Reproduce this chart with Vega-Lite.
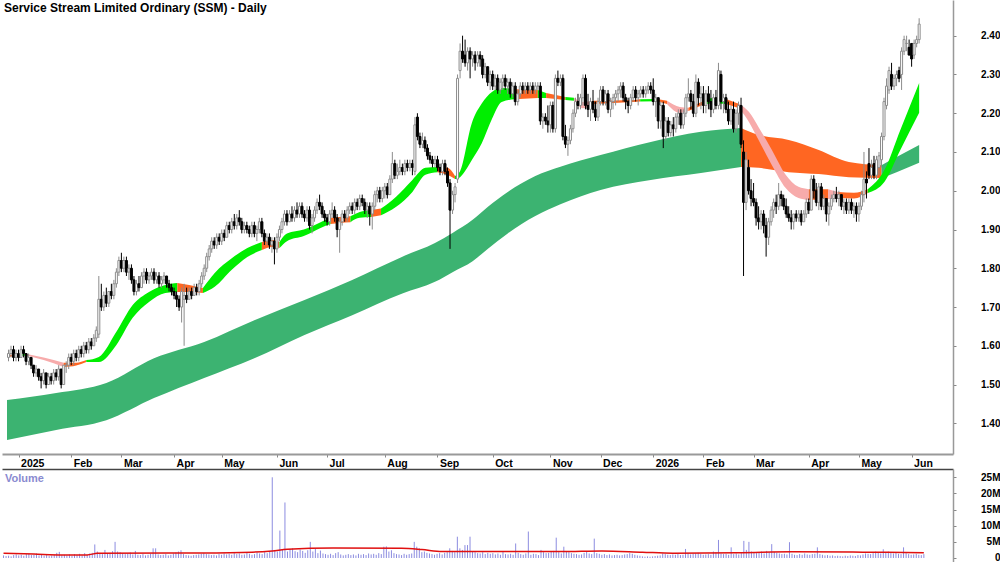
{
"$schema":"https://vega.github.io/schema/vega-lite/v6.json",
"background":"white","padding":0,"spacing":0,
"config":{"view":{"stroke":null},"font":"Liberation Sans"},
"datasets":{
"px":[
{"i":-4,"o":1.57,"h":1.59,"l":1.56,"c":1.58,"v":0.8},{"i":-3,"o":1.58,"h":1.60,"l":1.57,"c":1.59,"v":0.6},{"i":-2,"o":1.59,"h":1.60,"l":1.56,"c":1.57,"v":0.7},{"i":-1,"o":1.57,"h":1.59,"l":1.56,"c":1.58,"v":0.5},
{"i":0,"o":1.58,"h":1.59,"l":1.56,"c":1.57,"v":0.9},{"i":1,"o":1.57,"h":1.60,"l":1.57,"c":1.59,"v":1.1},{"i":2,"o":1.59,"h":1.60,"l":1.57,"c":1.58,"v":0.8},{"i":3,"o":1.58,"h":1.58,"l":1.55,"c":1.56,"v":1.0},{"i":4,"o":1.56,"h":1.58,"l":1.55,"c":1.57,"v":0.7},{"i":5,"o":1.57,"h":1.57,"l":1.54,"c":1.55,"v":1.2},{"i":6,"o":1.55,"h":1.55,"l":1.52,"c":1.53,"v":1.3},{"i":7,"o":1.53,"h":1.55,"l":1.52,"c":1.54,"v":0.9},{"i":8,"o":1.54,"h":1.54,"l":1.51,"c":1.52,"v":1.0},{"i":9,"o":1.52,"h":1.53,"l":1.49,"c":1.51,"v":1.4},{"i":10,"o":1.51,"h":1.54,"l":1.50,"c":1.53,"v":0.8},{"i":11,"o":1.53,"h":1.53,"l":1.49,"c":1.50,"v":1.1},{"i":12,"o":1.50,"h":1.53,"l":1.50,"c":1.52,"v":0.7},{"i":13,"o":1.52,"h":1.53,"l":1.50,"c":1.51,"v":0.9},{"i":14,"o":1.51,"h":1.54,"l":1.50,"c":1.53,"v":0.6},{"i":15,"o":1.53,"h":1.54,"l":1.51,"c":1.52,"v":0.8},{"i":16,"o":1.52,"h":1.55,"l":1.51,"c":1.54,"v":1.0},{"i":17,"o":1.54,"h":1.54,"l":1.49,"c":1.50,"v":1.6},{"i":18,"o":1.50,"h":1.55,"l":1.50,"c":1.55,"v":1.9},{"i":19,"o":1.55,"h":1.56,"l":1.53,"c":1.55,"v":0.9},{"i":20,"o":1.55,"h":1.58,"l":1.54,"c":1.57,"v":1.0},
{"i":21,"o":1.57,"h":1.58,"l":1.55,"c":1.56,"v":0.8},{"i":22,"o":1.56,"h":1.59,"l":1.55,"c":1.58,"v":1.1},{"i":23,"o":1.58,"h":1.59,"l":1.56,"c":1.57,"v":0.7},{"i":24,"o":1.57,"h":1.60,"l":1.56,"c":1.59,"v":1.2},{"i":25,"o":1.59,"h":1.60,"l":1.57,"c":1.58,"v":0.9},{"i":26,"o":1.58,"h":1.61,"l":1.57,"c":1.60,"v":1.3},{"i":27,"o":1.60,"h":1.61,"l":1.58,"c":1.59,"v":0.8},{"i":28,"o":1.59,"h":1.62,"l":1.58,"c":1.61,"v":1.5},{"i":29,"o":1.61,"h":1.62,"l":1.59,"c":1.60,"v":1.0},{"i":30,"o":1.60,"h":1.63,"l":1.60,"c":1.62,"v":1.4},{"i":31,"o":1.62,"h":1.65,"l":1.61,"c":1.64,"v":1.6},{"i":32,"o":1.63,"h":1.78,"l":1.62,"c":1.72,"v":4.2},{"i":33,"o":1.72,"h":1.76,"l":1.69,"c":1.70,"v":2.0},{"i":34,"o":1.70,"h":1.74,"l":1.69,"c":1.73,"v":1.5},{"i":35,"o":1.73,"h":1.75,"l":1.70,"c":1.71,"v":1.2},{"i":36,"o":1.71,"h":1.74,"l":1.70,"c":1.74,"v":2.5},{"i":37,"o":1.74,"h":1.76,"l":1.72,"c":1.73,"v":1.3},{"i":38,"o":1.73,"h":1.77,"l":1.72,"c":1.76,"v":1.6},{"i":39,"o":1.76,"h":1.80,"l":1.75,"c":1.79,"v":2.1},{"i":40,"o":1.79,"h":1.83,"l":1.78,"c":1.82,"v":5.0},
{"i":41,"o":1.82,"h":1.84,"l":1.79,"c":1.80,"v":2.0},{"i":42,"o":1.80,"h":1.83,"l":1.79,"c":1.82,"v":1.8},{"i":43,"o":1.82,"h":1.83,"l":1.78,"c":1.79,"v":1.5},{"i":44,"o":1.79,"h":1.81,"l":1.77,"c":1.80,"v":1.2},{"i":45,"o":1.80,"h":1.81,"l":1.76,"c":1.77,"v":1.4},{"i":46,"o":1.77,"h":1.78,"l":1.73,"c":1.74,"v":1.7},{"i":47,"o":1.74,"h":1.77,"l":1.73,"c":1.76,"v":1.1},{"i":48,"o":1.76,"h":1.78,"l":1.74,"c":1.75,"v":2.2},{"i":49,"o":1.75,"h":1.79,"l":1.75,"c":1.78,"v":1.0},{"i":50,"o":1.78,"h":1.80,"l":1.76,"c":1.79,"v":0.9},{"i":51,"o":1.79,"h":1.80,"l":1.76,"c":1.77,"v":1.2},{"i":52,"o":1.77,"h":1.79,"l":1.76,"c":1.78,"v":0.8},{"i":53,"o":1.78,"h":1.80,"l":1.77,"c":1.79,"v":1.0},{"i":54,"o":1.79,"h":1.80,"l":1.76,"c":1.77,"v":1.3},{"i":55,"o":1.77,"h":1.79,"l":1.76,"c":1.78,"v":3.0},{"i":56,"o":1.78,"h":1.79,"l":1.75,"c":1.76,"v":3.0},{"i":57,"o":1.76,"h":1.78,"l":1.75,"c":1.77,"v":1.1},{"i":58,"o":1.77,"h":1.79,"l":1.76,"c":1.78,"v":0.9},{"i":59,"o":1.78,"h":1.78,"l":1.75,"c":1.76,"v":1.0},{"i":60,"o":1.76,"h":1.77,"l":1.74,"c":1.75,"v":1.2},{"i":61,"o":1.75,"h":1.76,"l":1.73,"c":1.74,"v":0.8},
{"i":62,"o":1.74,"h":1.75,"l":1.72,"c":1.73,"v":1.0},{"i":63,"o":1.73,"h":1.74,"l":1.70,"c":1.72,"v":1.4},{"i":64,"o":1.72,"h":1.73,"l":1.69,"c":1.70,"v":1.7},{"i":65,"o":1.70,"h":1.75,"l":1.66,"c":1.74,"v":2.0},{"i":66,"o":1.72,"h":1.76,"l":1.60,"c":1.73,"v":2.4},{"i":67,"o":1.73,"h":1.75,"l":1.71,"c":1.72,"v":1.2},{"i":68,"o":1.72,"h":1.75,"l":1.72,"c":1.74,"v":0.9},{"i":69,"o":1.74,"h":1.75,"l":1.72,"c":1.73,"v":0.8},{"i":70,"o":1.73,"h":1.76,"l":1.73,"c":1.75,"v":0.7},{"i":71,"o":1.75,"h":1.76,"l":1.73,"c":1.74,"v":0.9},{"i":72,"o":1.74,"h":1.77,"l":1.73,"c":1.76,"v":1.0},{"i":73,"o":1.76,"h":1.79,"l":1.75,"c":1.78,"v":1.1},{"i":74,"o":1.78,"h":1.81,"l":1.77,"c":1.80,"v":1.3},{"i":75,"o":1.80,"h":1.84,"l":1.79,"c":1.83,"v":1.5},{"i":76,"o":1.83,"h":1.86,"l":1.82,"c":1.85,"v":1.2},{"i":77,"o":1.85,"h":1.88,"l":1.84,"c":1.87,"v":1.1},{"i":78,"o":1.87,"h":1.88,"l":1.85,"c":1.86,"v":0.9},{"i":79,"o":1.86,"h":1.89,"l":1.85,"c":1.88,"v":1.0},{"i":80,"o":1.88,"h":1.89,"l":1.86,"c":1.87,"v":0.8},
{"i":81,"o":1.87,"h":1.90,"l":1.86,"c":1.89,"v":1.2},{"i":82,"o":1.89,"h":1.90,"l":1.87,"c":1.88,"v":1.0},{"i":83,"o":1.88,"h":1.92,"l":1.88,"c":1.91,"v":1.4},{"i":84,"o":1.91,"h":1.92,"l":1.89,"c":1.90,"v":1.1},{"i":85,"o":1.90,"h":1.93,"l":1.89,"c":1.92,"v":1.3},{"i":86,"o":1.92,"h":1.94,"l":1.90,"c":1.91,"v":1.0},{"i":87,"o":1.91,"h":1.94,"l":1.90,"c":1.93,"v":1.5},{"i":88,"o":1.93,"h":1.95,"l":1.91,"c":1.92,"v":1.2},{"i":89,"o":1.92,"h":1.93,"l":1.89,"c":1.90,"v":1.4},{"i":90,"o":1.90,"h":1.92,"l":1.89,"c":1.91,"v":1.0},{"i":91,"o":1.91,"h":1.92,"l":1.89,"c":1.90,"v":1.1},{"i":92,"o":1.90,"h":1.91,"l":1.88,"c":1.89,"v":1.6},{"i":93,"o":1.89,"h":1.92,"l":1.88,"c":1.91,"v":1.3},{"i":94,"o":1.91,"h":1.92,"l":1.88,"c":1.89,"v":1.0},{"i":95,"o":1.89,"h":1.91,"l":1.87,"c":1.90,"v":1.2},{"i":96,"o":1.90,"h":1.93,"l":1.89,"c":1.92,"v":1.7},{"i":97,"o":1.92,"h":1.93,"l":1.88,"c":1.89,"v":1.4},{"i":98,"o":1.89,"h":1.90,"l":1.86,"c":1.87,"v":1.2},{"i":99,"o":1.87,"h":1.89,"l":1.86,"c":1.88,"v":1.8},{"i":100,"o":1.88,"h":1.89,"l":1.85,"c":1.86,"v":1.5},{"i":101,"o":1.86,"h":1.88,"l":1.84,"c":1.87,"v":2.0},{"i":102,"o":1.87,"h":1.88,"l":1.81,"c":1.85,"v":25.0},
{"i":103,"o":1.85,"h":1.89,"l":1.84,"c":1.88,"v":2.5},{"i":104,"o":1.88,"h":1.91,"l":1.87,"c":1.90,"v":2.0},{"i":105,"o":1.90,"h":1.93,"l":1.89,"c":1.92,"v":8.5},{"i":106,"o":1.92,"h":1.95,"l":1.91,"c":1.94,"v":2.5},{"i":107,"o":1.94,"h":1.95,"l":1.91,"c":1.92,"v":17.2},{"i":108,"o":1.92,"h":1.95,"l":1.92,"c":1.94,"v":2.0},{"i":109,"o":1.94,"h":1.96,"l":1.92,"c":1.93,"v":2.8},{"i":110,"o":1.93,"h":1.96,"l":1.92,"c":1.95,"v":3.0},{"i":111,"o":1.95,"h":1.97,"l":1.93,"c":1.94,"v":2.1},{"i":112,"o":1.94,"h":1.97,"l":1.93,"c":1.96,"v":1.8},{"i":113,"o":1.96,"h":1.97,"l":1.93,"c":1.94,"v":2.6},{"i":114,"o":1.94,"h":1.95,"l":1.92,"c":1.93,"v":2.2},{"i":115,"o":1.93,"h":1.96,"l":1.92,"c":1.95,"v":1.6},{"i":116,"o":1.95,"h":1.96,"l":1.90,"c":1.91,"v":2.4},{"i":117,"o":1.91,"h":1.94,"l":1.89,"c":1.93,"v":5.0},{"i":118,"o":1.93,"h":1.96,"l":1.92,"c":1.95,"v":2.0},{"i":119,"o":1.95,"h":1.98,"l":1.94,"c":1.97,"v":2.8},{"i":120,"o":1.97,"h":1.99,"l":1.95,"c":1.96,"v":1.5},{"i":121,"o":1.96,"h":1.97,"l":1.93,"c":1.94,"v":2.3},{"i":122,"o":1.94,"h":1.95,"l":1.92,"c":1.93,"v":1.4},
{"i":123,"o":1.93,"h":1.94,"l":1.91,"c":1.92,"v":1.2},{"i":124,"o":1.92,"h":1.95,"l":1.91,"c":1.94,"v":1.0},{"i":125,"o":1.94,"h":1.97,"l":1.93,"c":1.95,"v":1.3},{"i":126,"o":1.95,"h":1.96,"l":1.92,"c":1.93,"v":0.9},{"i":127,"o":1.93,"h":1.94,"l":1.88,"c":1.90,"v":1.5},{"i":128,"o":1.90,"h":1.93,"l":1.84,"c":1.92,"v":1.8},{"i":129,"o":1.92,"h":1.95,"l":1.91,"c":1.94,"v":1.1},{"i":130,"o":1.94,"h":1.95,"l":1.92,"c":1.93,"v":0.8},{"i":131,"o":1.93,"h":1.96,"l":1.92,"c":1.95,"v":1.0},{"i":132,"o":1.95,"h":1.97,"l":1.94,"c":1.96,"v":1.2},{"i":133,"o":1.96,"h":1.97,"l":1.94,"c":1.95,"v":0.9},{"i":134,"o":1.95,"h":1.98,"l":1.94,"c":1.97,"v":1.1},{"i":135,"o":1.97,"h":1.98,"l":1.95,"c":1.96,"v":0.8},{"i":136,"o":1.96,"h":1.99,"l":1.95,"c":1.98,"v":1.3},{"i":137,"o":1.98,"h":1.99,"l":1.96,"c":1.97,"v":1.0},{"i":138,"o":1.97,"h":1.98,"l":1.94,"c":1.95,"v":1.2},{"i":139,"o":1.95,"h":1.97,"l":1.93,"c":1.96,"v":0.9},{"i":140,"o":1.96,"h":1.97,"l":1.91,"c":1.94,"v":1.4},{"i":141,"o":1.94,"h":1.97,"l":1.90,"c":1.96,"v":1.1},{"i":142,"o":1.96,"h":2.00,"l":1.95,"c":1.99,"v":1.3},{"i":143,"o":1.99,"h":2.01,"l":1.97,"c":2.00,"v":1.0},{"i":144,"o":2.00,"h":2.01,"l":1.97,"c":1.98,"v":1.5},{"i":145,"o":1.98,"h":2.01,"l":1.97,"c":2.00,"v":1.2},
{"i":146,"o":2.00,"h":2.02,"l":1.98,"c":2.01,"v":3.5},{"i":147,"o":2.01,"h":2.02,"l":1.98,"c":1.99,"v":3.6},{"i":148,"o":1.99,"h":2.04,"l":1.99,"c":2.03,"v":2.0},{"i":149,"o":2.03,"h":2.10,"l":2.02,"c":2.07,"v":2.4},{"i":150,"o":2.07,"h":2.08,"l":2.03,"c":2.04,"v":1.5},{"i":151,"o":2.04,"h":2.07,"l":2.03,"c":2.05,"v":1.2},{"i":152,"o":2.05,"h":2.08,"l":2.04,"c":2.06,"v":1.1},{"i":153,"o":2.06,"h":2.07,"l":2.04,"c":2.05,"v":0.9},{"i":154,"o":2.05,"h":2.08,"l":2.04,"c":2.07,"v":1.3},{"i":155,"o":2.07,"h":2.08,"l":2.05,"c":2.06,"v":1.0},{"i":156,"o":2.06,"h":2.08,"l":2.05,"c":2.07,"v":1.2},{"i":157,"o":2.07,"h":2.08,"l":2.04,"c":2.06,"v":1.4},{"i":158,"o":2.05,"h":2.19,"l":2.04,"c":2.17,"v":5.0},{"i":159,"o":2.19,"h":2.20,"l":2.13,"c":2.14,"v":3.5},{"i":160,"o":2.14,"h":2.15,"l":2.11,"c":2.12,"v":3.0},{"i":161,"o":2.12,"h":2.15,"l":2.11,"c":2.13,"v":1.8},{"i":162,"o":2.13,"h":2.14,"l":2.10,"c":2.11,"v":2.0},{"i":163,"o":2.11,"h":2.12,"l":2.08,"c":2.09,"v":1.6},{"i":164,"o":2.09,"h":2.10,"l":2.07,"c":2.08,"v":1.4},{"i":165,"o":2.08,"h":2.09,"l":2.06,"c":2.07,"v":1.2},{"i":166,"o":2.07,"h":2.09,"l":2.06,"c":2.08,"v":1.0},
{"i":167,"o":2.08,"h":2.09,"l":2.05,"c":2.06,"v":1.3},{"i":168,"o":2.06,"h":2.07,"l":2.04,"c":2.05,"v":1.5},{"i":169,"o":2.05,"h":2.08,"l":2.04,"c":2.07,"v":1.1},{"i":170,"o":2.07,"h":2.08,"l":2.04,"c":2.05,"v":1.6},{"i":171,"o":2.05,"h":2.06,"l":2.01,"c":2.02,"v":1.8},{"i":172,"o":2.02,"h":2.03,"l":1.85,"c":1.95,"v":3.0},{"i":173,"o":1.95,"h":2.00,"l":1.94,"c":1.99,"v":2.2},{"i":174,"o":1.99,"h":2.02,"l":1.97,"c":2.01,"v":1.8},{"i":175,"o":2.03,"h":2.30,"l":2.02,"c":2.29,"v":6.6},{"i":176,"o":2.31,"h":2.38,"l":2.29,"c":2.36,"v":3.0},{"i":177,"o":2.36,"h":2.40,"l":2.33,"c":2.34,"v":2.5},{"i":178,"o":2.35,"h":2.39,"l":2.32,"c":2.33,"v":4.0},{"i":179,"o":2.33,"h":2.37,"l":2.31,"c":2.36,"v":4.0},{"i":180,"o":2.36,"h":2.37,"l":2.29,"c":2.34,"v":6.6},{"i":181,"o":2.34,"h":2.36,"l":2.32,"c":2.35,"v":2.0},{"i":182,"o":2.35,"h":2.36,"l":2.31,"c":2.33,"v":1.8},{"i":183,"o":2.33,"h":2.36,"l":2.32,"c":2.35,"v":1.5},{"i":184,"o":2.35,"h":2.36,"l":2.32,"c":2.34,"v":1.4},{"i":185,"o":2.34,"h":2.35,"l":2.29,"c":2.30,"v":1.8},{"i":186,"o":2.30,"h":2.33,"l":2.29,"c":2.32,"v":1.2},{"i":187,"o":2.32,"h":2.32,"l":2.27,"c":2.28,"v":1.6},{"i":188,"o":2.28,"h":2.31,"l":2.26,"c":2.30,"v":1.3},
{"i":189,"o":2.30,"h":2.31,"l":2.26,"c":2.27,"v":1.5},{"i":190,"o":2.27,"h":2.30,"l":2.26,"c":2.29,"v":1.1},{"i":191,"o":2.29,"h":2.30,"l":2.25,"c":2.26,"v":1.4},{"i":192,"o":2.26,"h":2.29,"l":2.25,"c":2.28,"v":1.0},{"i":193,"o":2.28,"h":2.30,"l":2.26,"c":2.29,"v":2.0},{"i":194,"o":2.29,"h":2.30,"l":2.26,"c":2.27,"v":1.2},{"i":195,"o":2.27,"h":2.29,"l":2.25,"c":2.28,"v":1.1},{"i":196,"o":2.28,"h":2.29,"l":2.24,"c":2.25,"v":1.3},{"i":197,"o":2.25,"h":2.28,"l":2.24,"c":2.27,"v":1.0},{"i":198,"o":2.27,"h":2.28,"l":2.22,"c":2.23,"v":4.5},{"i":199,"o":2.23,"h":2.26,"l":2.22,"c":2.25,"v":1.6},{"i":200,"o":2.25,"h":2.28,"l":2.24,"c":2.27,"v":1.2},{"i":201,"o":2.27,"h":2.28,"l":2.25,"c":2.26,"v":1.0},{"i":202,"o":2.26,"h":2.28,"l":2.25,"c":2.27,"v":1.4},{"i":203,"o":2.27,"h":2.28,"l":2.25,"c":2.26,"v":8.2},{"i":204,"o":2.26,"h":2.28,"l":2.25,"c":2.27,"v":1.0},{"i":205,"o":2.27,"h":2.28,"l":2.25,"c":2.26,"v":1.3},{"i":206,"o":2.26,"h":2.28,"l":2.25,"c":2.27,"v":1.2},{"i":207,"o":2.27,"h":2.28,"l":2.26,"c":2.27,"v":0.9},{"i":208,"o":2.27,"h":2.28,"l":2.17,"c":2.18,"v":2.5},{"i":209,"o":2.18,"h":2.20,"l":2.16,"c":2.19,"v":1.8},{"i":210,"o":2.19,"h":2.20,"l":2.17,"c":2.18,"v":1.5},{"i":211,"o":2.18,"h":2.22,"l":2.15,"c":2.17,"v":1.6},
{"i":212,"o":2.17,"h":2.23,"l":2.15,"c":2.22,"v":1.9},{"i":213,"o":2.22,"h":2.23,"l":2.15,"c":2.16,"v":2.2},{"i":214,"o":2.16,"h":2.30,"l":2.15,"c":2.29,"v":6.3},{"i":215,"o":2.29,"h":2.31,"l":2.27,"c":2.28,"v":1.8},{"i":216,"o":2.28,"h":2.30,"l":2.27,"c":2.29,"v":1.4},{"i":217,"o":2.29,"h":2.30,"l":2.13,"c":2.14,"v":3.5},{"i":218,"o":2.14,"h":2.17,"l":2.11,"c":2.12,"v":2.0},{"i":219,"o":2.12,"h":2.14,"l":2.09,"c":2.13,"v":1.8},{"i":220,"o":2.13,"h":2.17,"l":2.12,"c":2.16,"v":1.5},{"i":221,"o":2.16,"h":2.21,"l":2.15,"c":2.20,"v":1.3},{"i":222,"o":2.20,"h":2.24,"l":2.19,"c":2.23,"v":1.2},{"i":223,"o":2.23,"h":2.25,"l":2.21,"c":2.22,"v":1.0},{"i":224,"o":2.22,"h":2.25,"l":2.21,"c":2.24,"v":1.1},{"i":225,"o":2.24,"h":2.30,"l":2.22,"c":2.29,"v":1.6},{"i":226,"o":2.29,"h":2.30,"l":2.21,"c":2.22,"v":1.9},{"i":227,"o":2.22,"h":2.25,"l":2.19,"c":2.21,"v":1.4},{"i":228,"o":2.21,"h":2.24,"l":2.18,"c":2.23,"v":1.2},{"i":229,"o":2.23,"h":2.26,"l":2.20,"c":2.21,"v":6.0},{"i":230,"o":2.21,"h":2.23,"l":2.18,"c":2.19,"v":1.5},{"i":231,"o":2.19,"h":2.24,"l":2.18,"c":2.23,"v":1.3},
{"i":232,"o":2.23,"h":2.27,"l":2.22,"c":2.26,"v":1.0},{"i":233,"o":2.26,"h":2.27,"l":2.22,"c":2.23,"v":1.2},{"i":234,"o":2.23,"h":2.26,"l":2.22,"c":2.25,"v":0.9},{"i":235,"o":2.25,"h":2.26,"l":2.20,"c":2.21,"v":1.1},{"i":236,"o":2.21,"h":2.24,"l":2.19,"c":2.23,"v":0.8},{"i":237,"o":2.23,"h":2.25,"l":2.21,"c":2.24,"v":0.9},{"i":238,"o":2.24,"h":2.26,"l":2.22,"c":2.25,"v":1.0},{"i":239,"o":2.25,"h":2.27,"l":2.23,"c":2.26,"v":0.8},{"i":240,"o":2.26,"h":2.28,"l":2.24,"c":2.27,"v":0.9},{"i":241,"o":2.27,"h":2.28,"l":2.23,"c":2.24,"v":1.1},{"i":242,"o":2.24,"h":2.25,"l":2.21,"c":2.23,"v":1.2},{"i":243,"o":2.23,"h":2.24,"l":2.20,"c":2.22,"v":1.5},{"i":244,"o":2.22,"h":2.25,"l":2.21,"c":2.24,"v":1.3},{"i":245,"o":2.24,"h":2.27,"l":2.23,"c":2.26,"v":1.0},{"i":246,"o":2.26,"h":2.27,"l":2.23,"c":2.24,"v":0.8},{"i":247,"o":2.24,"h":2.26,"l":2.22,"c":2.25,"v":0.7},{"i":248,"o":2.25,"h":2.27,"l":2.24,"c":2.26,"v":0.5},{"i":249,"o":2.26,"h":2.27,"l":2.24,"c":2.25,"v":0.4},{"i":250,"o":2.25,"h":2.27,"l":2.24,"c":2.26,"v":0.5},{"i":251,"o":2.26,"h":2.28,"l":2.25,"c":2.27,"v":0.4},{"i":252,"o":2.27,"h":2.28,"l":2.25,"c":2.26,"v":0.5},
{"i":253,"o":2.26,"h":2.29,"l":2.22,"c":2.23,"v":0.6},{"i":254,"o":2.23,"h":2.25,"l":2.19,"c":2.24,"v":0.7},{"i":255,"o":2.24,"h":2.24,"l":2.16,"c":2.18,"v":0.8},{"i":256,"o":2.18,"h":2.23,"l":2.16,"c":2.22,"v":1.4},{"i":257,"o":2.22,"h":2.23,"l":2.11,"c":2.14,"v":1.2},{"i":258,"o":2.14,"h":2.19,"l":2.13,"c":2.18,"v":1.0},{"i":259,"o":2.18,"h":2.19,"l":2.14,"c":2.15,"v":0.9},{"i":260,"o":2.15,"h":2.18,"l":2.14,"c":2.17,"v":1.1},{"i":261,"o":2.17,"h":2.19,"l":2.14,"c":2.16,"v":1.0},{"i":262,"o":2.16,"h":2.20,"l":2.15,"c":2.19,"v":1.2},{"i":263,"o":2.19,"h":2.21,"l":2.17,"c":2.20,"v":0.9},{"i":264,"o":2.20,"h":2.21,"l":2.16,"c":2.17,"v":1.0},{"i":265,"o":2.17,"h":2.21,"l":2.16,"c":2.20,"v":2.8},{"i":266,"o":2.20,"h":2.25,"l":2.19,"c":2.24,"v":1.5},{"i":267,"o":2.24,"h":2.29,"l":2.23,"c":2.25,"v":1.1},{"i":268,"o":2.25,"h":2.26,"l":2.21,"c":2.23,"v":1.3},{"i":269,"o":2.23,"h":2.25,"l":2.19,"c":2.20,"v":1.4},{"i":270,"o":2.20,"h":2.30,"l":2.19,"c":2.28,"v":1.6},{"i":271,"o":2.28,"h":2.29,"l":2.22,"c":2.24,"v":1.2},{"i":272,"o":2.24,"h":2.27,"l":2.21,"c":2.25,"v":1.0},
{"i":273,"o":2.25,"h":2.27,"l":2.20,"c":2.22,"v":1.1},{"i":274,"o":2.22,"h":2.26,"l":2.20,"c":2.25,"v":1.2},{"i":275,"o":2.25,"h":2.27,"l":2.21,"c":2.23,"v":1.0},{"i":276,"o":2.23,"h":2.26,"l":2.19,"c":2.21,"v":2.0},{"i":277,"o":2.21,"h":2.25,"l":2.20,"c":2.24,"v":1.8},{"i":278,"o":2.24,"h":2.26,"l":2.21,"c":2.22,"v":5.6},{"i":279,"o":2.22,"h":2.33,"l":2.21,"c":2.31,"v":1.4},{"i":280,"o":2.30,"h":2.31,"l":2.21,"c":2.23,"v":1.2},{"i":281,"o":2.23,"h":2.25,"l":2.20,"c":2.24,"v":1.3},{"i":282,"o":2.24,"h":2.25,"l":2.20,"c":2.21,"v":1.0},{"i":283,"o":2.21,"h":2.23,"l":2.17,"c":2.18,"v":3.3},{"i":284,"o":2.18,"h":2.22,"l":2.17,"c":2.21,"v":1.2},{"i":285,"o":2.21,"h":2.23,"l":2.15,"c":2.16,"v":1.4},{"i":286,"o":2.16,"h":2.21,"l":2.15,"c":2.20,"v":1.1},{"i":287,"o":2.20,"h":2.23,"l":2.17,"c":2.22,"v":1.5},{"i":288,"o":2.22,"h":2.24,"l":2.11,"c":2.12,"v":5.3},{"i":289,"o":2.10,"h":2.13,"l":1.78,"c":1.97,"v":2.5},{"i":290,"o":1.97,"h":2.10,"l":1.95,"c":2.08,"v":5.0},{"i":291,"o":2.06,"h":2.08,"l":1.99,"c":2.00,"v":2.0},{"i":292,"o":2.00,"h":2.03,"l":1.96,"c":1.98,"v":1.8},
{"i":293,"o":1.98,"h":2.02,"l":1.96,"c":1.97,"v":1.5},{"i":294,"o":1.97,"h":1.98,"l":1.91,"c":1.93,"v":1.6},{"i":295,"o":1.93,"h":1.96,"l":1.90,"c":1.92,"v":2.0},{"i":296,"o":1.92,"h":1.95,"l":1.90,"c":1.94,"v":1.4},{"i":297,"o":1.94,"h":1.95,"l":1.89,"c":1.91,"v":2.2},{"i":298,"o":1.91,"h":1.93,"l":1.83,"c":1.88,"v":1.8},{"i":299,"o":1.88,"h":1.93,"l":1.86,"c":1.92,"v":4.3},{"i":300,"o":1.92,"h":1.96,"l":1.91,"c":1.95,"v":1.9},{"i":301,"o":1.95,"h":1.98,"l":1.93,"c":1.97,"v":1.6},{"i":302,"o":1.97,"h":1.99,"l":1.94,"c":1.96,"v":1.4},{"i":303,"o":1.96,"h":2.02,"l":1.95,"c":1.99,"v":1.2},{"i":304,"o":1.99,"h":2.00,"l":1.96,"c":1.98,"v":1.3},{"i":305,"o":1.98,"h":1.99,"l":1.95,"c":1.96,"v":1.1},{"i":306,"o":1.96,"h":1.98,"l":1.93,"c":1.94,"v":4.9},{"i":307,"o":1.94,"h":1.96,"l":1.92,"c":1.93,"v":1.3},{"i":308,"o":1.93,"h":1.95,"l":1.90,"c":1.92,"v":1.0},{"i":309,"o":1.92,"h":1.94,"l":1.90,"c":1.94,"v":0.9},{"i":310,"o":1.94,"h":1.95,"l":1.92,"c":1.93,"v":1.2},{"i":311,"o":1.93,"h":1.95,"l":1.92,"c":1.94,"v":1.0},{"i":312,"o":1.94,"h":1.95,"l":1.91,"c":1.92,"v":1.4},{"i":313,"o":1.92,"h":1.95,"l":1.92,"c":1.94,"v":1.1},{"i":314,"o":1.94,"h":1.98,"l":1.93,"c":1.97,"v":1.0},
{"i":315,"o":1.97,"h":1.98,"l":1.94,"c":1.95,"v":1.2},{"i":316,"o":1.95,"h":2.04,"l":1.95,"c":2.03,"v":1.3},{"i":317,"o":2.03,"h":2.04,"l":1.98,"c":2.00,"v":3.3},{"i":318,"o":2.00,"h":2.02,"l":1.96,"c":1.97,"v":1.2},{"i":319,"o":1.97,"h":2.02,"l":1.95,"c":2.01,"v":1.0},{"i":320,"o":2.01,"h":2.02,"l":1.95,"c":1.96,"v":0.8},{"i":321,"o":1.96,"h":1.99,"l":1.95,"c":1.98,"v":0.9},{"i":322,"o":1.98,"h":1.98,"l":1.92,"c":1.94,"v":0.7},{"i":323,"o":1.94,"h":1.97,"l":1.91,"c":1.96,"v":0.8},{"i":324,"o":1.96,"h":1.99,"l":1.95,"c":1.98,"v":0.6},{"i":325,"o":1.98,"h":2.00,"l":1.97,"c":1.99,"v":0.7},{"i":326,"o":1.99,"h":2.01,"l":1.97,"c":1.98,"v":0.6},{"i":327,"o":1.98,"h":2.00,"l":1.96,"c":1.99,"v":0.5},{"i":328,"o":1.99,"h":1.99,"l":1.95,"c":1.96,"v":0.7},{"i":329,"o":1.96,"h":1.98,"l":1.94,"c":1.97,"v":0.6},{"i":330,"o":1.97,"h":1.98,"l":1.94,"c":1.95,"v":0.8},{"i":331,"o":1.95,"h":1.98,"l":1.94,"c":1.97,"v":0.7},{"i":332,"o":1.97,"h":1.98,"l":1.94,"c":1.95,"v":0.6},{"i":333,"o":1.95,"h":1.97,"l":1.93,"c":1.96,"v":0.9},{"i":334,"o":1.96,"h":1.97,"l":1.92,"c":1.94,"v":0.8},
{"i":335,"o":1.94,"h":1.97,"l":1.92,"c":1.96,"v":1.1},{"i":336,"o":1.96,"h":2.00,"l":1.95,"c":1.99,"v":1.4},{"i":337,"o":1.99,"h":2.10,"l":1.97,"c":2.03,"v":1.3},{"i":338,"o":2.03,"h":2.05,"l":1.98,"c":2.02,"v":1.2},{"i":339,"o":2.07,"h":2.11,"l":2.03,"c":2.04,"v":1.5},{"i":340,"o":2.04,"h":2.08,"l":2.03,"c":2.06,"v":2.0},{"i":341,"o":2.07,"h":2.09,"l":2.03,"c":2.04,"v":1.6},{"i":342,"o":2.04,"h":2.09,"l":2.03,"c":2.08,"v":1.4},{"i":343,"o":2.06,"h":2.10,"l":2.04,"c":2.09,"v":2.7},{"i":344,"o":2.08,"h":2.15,"l":2.06,"c":2.14,"v":1.8},{"i":345,"o":2.14,"h":2.24,"l":2.13,"c":2.23,"v":2.0},{"i":346,"o":2.22,"h":2.29,"l":2.21,"c":2.27,"v":1.5},{"i":347,"o":2.26,"h":2.32,"l":2.25,"c":2.31,"v":1.4},{"i":348,"o":2.30,"h":2.33,"l":2.26,"c":2.27,"v":1.6},{"i":349,"o":2.27,"h":2.30,"l":2.26,"c":2.29,"v":1.3},{"i":350,"o":2.29,"h":2.31,"l":2.27,"c":2.30,"v":1.2},{"i":351,"o":2.31,"h":2.32,"l":2.28,"c":2.29,"v":3.3},{"i":352,"o":2.30,"h":2.37,"l":2.26,"c":2.36,"v":1.5},{"i":353,"o":2.36,"h":2.40,"l":2.35,"c":2.39,"v":1.2},{"i":354,"o":2.38,"h":2.40,"l":2.36,"c":2.38,"v":1.0},{"i":355,"o":2.37,"h":2.39,"l":2.35,"c":2.35,"v":1.1},{"i":356,"o":2.38,"h":2.38,"l":2.32,"c":2.34,"v":1.3},{"i":357,"o":2.35,"h":2.39,"l":2.34,"c":2.38,"v":1.0},{"i":358,"o":2.38,"h":2.40,"l":2.37,"c":2.39,"v":0.9},{"i":359,"o":2.39,"h":2.445,"l":2.38,"c":2.43,"v":1.2}
],
"sb":[
{"s":1,"k":"mid","i":-4.6,"hi":1.576,"lo":1.571},{"s":1,"k":"mid","i":0.5,"hi":1.578,"lo":1.574},
{"s":2,"k":"up","i":0.5,"hi":1.578,"lo":1.574},{"s":2,"k":"up","i":3.3,"hi":1.579,"lo":1.575},
{"s":3,"k":"dn","i":3.3,"hi":1.579,"lo":1.575},{"s":3,"k":"dn","i":10,"hi":1.570,"lo":1.563},{"s":3,"k":"dn","i":18,"hi":1.556,"lo":1.545},
{"s":4,"k":"mid","i":18,"hi":1.556,"lo":1.545},{"s":4,"k":"mid","i":23,"hi":1.556,"lo":1.549},{"s":4,"k":"mid","i":27,"hi":1.563,"lo":1.558},
{"s":5,"k":"up","i":27,"hi":1.563,"lo":1.558},{"s":5,"k":"up","i":32,"hi":1.571,"lo":1.558},{"s":5,"k":"up","i":39,"hi":1.636,"lo":1.602},{"s":5,"k":"up","i":45.5,"hi":1.705,"lo":1.672},{"s":5,"k":"up","i":52,"hi":1.739,"lo":1.713},{"s":5,"k":"up","i":58.5,"hi":1.757,"lo":1.736},{"s":5,"k":"up","i":63.3,"hi":1.762,"lo":1.739},
{"s":6,"k":"mid","i":63.3,"hi":1.762,"lo":1.739},{"s":6,"k":"mid","i":68,"hi":1.757,"lo":1.739},{"s":6,"k":"mid","i":73.5,"hi":1.749,"lo":1.736},
{"s":7,"k":"up","i":73.5,"hi":1.749,"lo":1.736},{"s":7,"k":"up","i":78.2,"hi":1.788,"lo":1.752},{"s":7,"k":"up","i":85,"hi":1.826,"lo":1.796},{"s":7,"k":"up","i":91.2,"hi":1.852,"lo":1.829},{"s":7,"k":"up","i":97,"hi":1.868,"lo":1.847},
{"s":8,"k":"mid","i":97,"hi":1.868,"lo":1.847},{"s":8,"k":"mid","i":101,"hi":1.873,"lo":1.855},{"s":8,"k":"mid","i":104,"hi":1.868,"lo":1.852},
{"s":9,"k":"up","i":104,"hi":1.868,"lo":1.852},{"s":9,"k":"up","i":107,"hi":1.890,"lo":1.870},{"s":9,"k":"up","i":113.7,"hi":1.900,"lo":1.883},{"s":9,"k":"up","i":120.4,"hi":1.919,"lo":1.904},{"s":9,"k":"up","i":124.4,"hi":1.930,"lo":1.914},
{"s":10,"k":"mid","i":124.4,"hi":1.930,"lo":1.914},{"s":10,"k":"mid","i":128,"hi":1.932,"lo":1.917},{"s":10,"k":"mid","i":132.3,"hi":1.934,"lo":1.919},
{"s":11,"k":"up","i":132.3,"hi":1.934,"lo":1.919},{"s":11,"k":"up","i":136,"hi":1.945,"lo":1.930},{"s":11,"k":"up","i":140.5,"hi":1.950,"lo":1.932},
{"s":12,"k":"mid","i":140.5,"hi":1.950,"lo":1.932},{"s":12,"k":"mid","i":144.5,"hi":1.954,"lo":1.937},
{"s":13,"k":"up","i":144.5,"hi":1.954,"lo":1.937},{"s":13,"k":"up","i":150.4,"hi":1.984,"lo":1.958},{"s":13,"k":"up","i":157,"hi":2.028,"lo":1.997},{"s":13,"k":"up","i":162.2,"hi":2.059,"lo":2.041},{"s":13,"k":"up","i":167,"hi":2.061,"lo":2.048},
{"s":14,"k":"mid","i":167,"hi":2.061,"lo":2.048},{"s":14,"k":"mid","i":171,"hi":2.059,"lo":2.041},{"s":14,"k":"mid","i":174,"hi":2.038,"lo":2.030},
{"s":15,"k":"up","i":174,"hi":2.038,"lo":2.030},{"s":15,"k":"up","i":176,"hi":2.050,"lo":2.035},{"s":15,"k":"up","i":180.7,"hi":2.175,"lo":2.079},{"s":15,"k":"up","i":184.7,"hi":2.226,"lo":2.123},{"s":15,"k":"up","i":188.7,"hi":2.255,"lo":2.185},{"s":15,"k":"up","i":192.6,"hi":2.265,"lo":2.229},{"s":15,"k":"up","i":197.7,"hi":2.262,"lo":2.236},
{"s":16,"k":"mid","i":197.7,"hi":2.262,"lo":2.236},{"s":16,"k":"mid","i":207,"hi":2.260,"lo":2.239},
{"s":17,"k":"up","i":207,"hi":2.260,"lo":2.239},{"s":17,"k":"up","i":210.3,"hi":2.252,"lo":2.239},
{"s":18,"k":"mid","i":210.3,"hi":2.252,"lo":2.239},{"s":18,"k":"mid","i":218,"hi":2.242,"lo":2.234},
{"s":19,"k":"up","i":218,"hi":2.242,"lo":2.234},{"s":19,"k":"up","i":221.4,"hi":2.240,"lo":2.232},
{"s":20,"k":"dn","i":221.4,"hi":2.240,"lo":2.232},{"s":20,"k":"dn","i":225,"hi":2.229,"lo":2.213},{"s":20,"k":"dn","i":229.3,"hi":2.232,"lo":2.224},
{"s":21,"k":"mid","i":229.3,"hi":2.232,"lo":2.224},{"s":21,"k":"mid","i":245,"hi":2.234,"lo":2.229},{"s":21,"k":"mid","i":247.8,"hi":2.236,"lo":2.230},
{"s":22,"k":"up","i":247.8,"hi":2.236,"lo":2.230},{"s":22,"k":"up","i":254.5,"hi":2.237,"lo":2.231},
{"s":23,"k":"mid","i":254.5,"hi":2.237,"lo":2.231},{"s":23,"k":"mid","i":258.5,"hi":2.232,"lo":2.224},
{"s":24,"k":"dn","i":258.5,"hi":2.232,"lo":2.224},{"s":24,"k":"dn","i":263.6,"hi":2.216,"lo":2.201},{"s":24,"k":"dn","i":267,"hi":2.214,"lo":2.206},
{"s":25,"k":"mid","i":267,"hi":2.214,"lo":2.206},{"s":25,"k":"mid","i":272.7,"hi":2.230,"lo":2.221},
{"s":26,"k":"up","i":272.7,"hi":2.230,"lo":2.221},{"s":26,"k":"up","i":277,"hi":2.239,"lo":2.226},{"s":26,"k":"up","i":282,"hi":2.237,"lo":2.224},
{"s":27,"k":"mid","i":282,"hi":2.237,"lo":2.224},{"s":27,"k":"mid","i":287.3,"hi":2.224,"lo":2.213},
{"s":28,"k":"dn","i":287.3,"hi":2.224,"lo":2.213},{"s":28,"k":"dn","i":291.2,"hi":2.203,"lo":2.177},{"s":28,"k":"dn","i":295,"hi":2.164,"lo":2.131},{"s":28,"k":"dn","i":300.3,"hi":2.105,"lo":2.066},{"s":28,"k":"dn","i":305.8,"hi":2.041,"lo":2.007},{"s":28,"k":"dn","i":310.9,"hi":2.010,"lo":1.981},{"s":28,"k":"dn","i":315,"hi":2.004,"lo":1.976},
{"s":29,"k":"mid","i":315,"hi":2.004,"lo":1.976},{"s":29,"k":"mid","i":322.7,"hi":2.004,"lo":1.979},
{"s":30,"k":"dn","i":322.7,"hi":2.004,"lo":1.979},{"s":30,"k":"dn","i":326.7,"hi":1.997,"lo":1.981},
{"s":31,"k":"mid","i":326.7,"hi":1.997,"lo":1.981},{"s":31,"k":"mid","i":333,"hi":1.995,"lo":1.980},{"s":31,"k":"mid","i":338.5,"hi":2.004,"lo":1.994},
{"s":32,"k":"up","i":338.5,"hi":2.004,"lo":1.994},{"s":32,"k":"up","i":345.2,"hi":2.054,"lo":2.023},{"s":32,"k":"up","i":351.5,"hi":2.157,"lo":2.105},{"s":32,"k":"up","i":359,"hi":2.278,"lo":2.201}
],
"lb":[
{"s":1,"k":"lup","i":-4.6,"hi":1.460,"lo":1.357},{"s":1,"k":"lup","i":15,"hi":1.478,"lo":1.383},{"s":1,"k":"lup","i":35,"hi":1.504,"lo":1.408},{"s":1,"k":"lup","i":54,"hi":1.568,"lo":1.465},{"s":1,"k":"lup","i":74,"hi":1.610,"lo":1.517},{"s":1,"k":"lup","i":94,"hi":1.666,"lo":1.568},{"s":1,"k":"lup","i":114,"hi":1.718,"lo":1.628},{"s":1,"k":"lup","i":133,"hi":1.770,"lo":1.679},{"s":1,"k":"lup","i":153,"hi":1.830,"lo":1.735},{"s":1,"k":"lup","i":166,"hi":1.865,"lo":1.765},{"s":1,"k":"lup","i":173,"hi":1.891,"lo":1.790},{"s":1,"k":"lup","i":181,"hi":1.925,"lo":1.818},{"s":1,"k":"lup","i":187,"hi":1.958,"lo":1.850},{"s":1,"k":"lup","i":195,"hi":1.997,"lo":1.890},{"s":1,"k":"lup","i":206,"hi":2.038,"lo":1.935},{"s":1,"k":"lup","i":216,"hi":2.062,"lo":1.965},{"s":1,"k":"lup","i":232,"hi":2.092,"lo":2.002},{"s":1,"k":"lup","i":252,"hi":2.126,"lo":2.028},{"s":1,"k":"lup","i":272,"hi":2.152,"lo":2.046},{"s":1,"k":"lup","i":288,"hi":2.162,"lo":2.061},
{"s":2,"k":"ldn","i":288,"hi":2.162,"lo":2.061},{"s":2,"k":"ldn","i":295,"hi":2.144,"lo":2.059},{"s":2,"k":"ldn","i":307,"hi":2.131,"lo":2.048},{"s":2,"k":"ldn","i":319,"hi":2.105,"lo":2.043},{"s":2,"k":"ldn","i":331,"hi":2.074,"lo":2.035},{"s":2,"k":"ldn","i":344,"hi":2.066,"lo":2.033},
{"s":3,"k":"lup","i":344,"hi":2.066,"lo":2.033},{"s":3,"k":"lup","i":350,"hi":2.087,"lo":2.048},{"s":3,"k":"lup","i":359,"hi":2.118,"lo":2.072}
],
"vm":[
{"i":-4,"m":1.45},{"i":8,"m":1.2},{"i":19,"m":0.95},{"i":29,"m":0.95},{"i":33,"m":1.45},{"i":74,"m":1.55},{"i":94,"m":1.8},{"i":102,"m":2.2},{"i":108,"m":2.7},{"i":126,"m":3.1},{"i":153,"m":3.0},{"i":161,"m":2.6},{"i":169,"m":2.0},{"i":216,"m":2.0},{"i":232,"m":2.2},{"i":248,"m":1.8},{"i":260,"m":1.5},{"i":287,"m":1.65},{"i":307,"m":1.9},{"i":335,"m":1.8},{"i":359,"m":1.65}
]
},
"vconcat":[
{
"width":951,"height":454,
"title":{"text":"Service Stream Limited Ordinary (SSM) - Daily","anchor":"start","frame":"group","offset":-15,"dx":2,"fontSize":12,"fontWeight":"bold","font":"Liberation Sans","color":"#000000"},
"layer":[
{"data":{"name":"lb"},"mark":{"type":"area","opacity":1,"interpolate":"monotone"},
"encoding":{
"x":{"field":"i","type":"quantitative","scale":{"domain":[-4.6,370.5],"nice":false,"zero":false},
"axis":{"orient":"bottom","title":null,"grid":false,"values":[0,21,41,62,81,103,123,146,167,189,212,232,253,273,293,315,335,356],
"labelExpr":"['2025','Feb','Mar','Apr','May','Jun','Jul','Aug','Sep','Oct','Nov','Dec','2026','Feb','Mar','Apr','May','Jun'][indexof([0,21,41,62,81,103,123,146,167,189,212,232,253,273,293,315,335,356], datum.value)]",
"labelAlign":"left","labelBaseline":"top","labelPadding":1,"labelFontSize":10.5,"labelFontWeight":"bold","labelColor":"#000000","labelFont":"Liberation Sans","labelFlush":false,"labelOverlap":false,"labelBound":false,"labelOffset":2,
"tickSize":3,"tickColor":"#888888","domainColor":"#999999","domainWidth":2}},
"y":{"field":"hi","type":"quantitative","scale":{"domain":[1.3208,2.4921],"nice":false,"zero":false},
"axis":{"orient":"right","title":null,"grid":false,"values":[1.4,1.5,1.6,1.7,1.8,1.9,2.0,2.1,2.2,2.3,2.4],"format":".2f","labelAlign":"right","labelBaseline":"middle","labelOverlap":false,"labelFlush":false,"tickSize":3,"labelPadding":44,"labelFontSize":10,"labelFontWeight":"bold","labelColor":"#000000","labelFont":"Liberation Sans","tickColor":"#888888","domainColor":"#999999","domainWidth":1.5}},
"y2":{"field":"lo"},
"color":{"field":"k","type":"nominal","scale":{"domain":["up","mid","dn","lup","ldn"],"range":["#00ee00","#ff6622","#f7abab","#3cb371","#ff6622"]},"legend":null},
"detail":{"field":"s","type":"nominal"}}},
{"data":{"name":"sb"},"mark":{"type":"area","opacity":1,"interpolate":"monotone"},
"encoding":{
"x":{"field":"i","type":"quantitative","scale":{"domain":[-4.6,370.5],"nice":false,"zero":false}},
"y":{"field":"hi","type":"quantitative","scale":{"domain":[1.3208,2.4921],"nice":false,"zero":false}},
"y2":{"field":"lo"},
"color":{"field":"k","type":"nominal","scale":{"domain":["up","mid","dn","lup","ldn"],"range":["#00ee00","#ff6622","#f7abab","#3cb371","#ff6622"]},"legend":null},
"detail":{"field":"s","type":"nominal"}}},
{"data":{"name":"px"},"mark":{"type":"rule","strokeWidth":1},
"encoding":{
"x":{"field":"i","type":"quantitative","scale":{"domain":[-4.6,370.5],"nice":false,"zero":false}},
"y":{"field":"l","type":"quantitative","scale":{"domain":[1.3208,2.4921],"nice":false,"zero":false}},
"y2":{"field":"h"},
"color":{"condition":{"test":"datum.c >= datum.o","value":"#8c8c8c"},"value":"#000000"}}},
{"data":{"name":"px"},"mark":{"type":"bar","size":2,"strokeWidth":1},
"encoding":{
"x":{"field":"i","type":"quantitative","scale":{"domain":[-4.6,370.5],"nice":false,"zero":false}},
"y":{"field":"o","type":"quantitative","scale":{"domain":[1.3208,2.4921],"nice":false,"zero":false}},
"y2":{"field":"c"},
"fill":{"condition":{"test":"datum.c >= datum.o","value":"#ffffff"},"value":"#000000"},
"stroke":{"condition":{"test":"datum.c >= datum.o","value":"#8c8c8c"},"value":"#000000"}}}
]
},
{
"width":951,"height":93,
"title":{"text":"Volume","anchor":"start","frame":"group","offset":-15,"dx":3,"fontSize":11,"fontWeight":"bold","font":"Liberation Sans","color":"#8a8ad0"},
"layer":[
{"data":{"name":"px"},"mark":{"type":"rule","strokeWidth":1,"color":"#8c8ce0"},
"encoding":{
"x":{"field":"i","type":"quantitative","scale":{"domain":[-4.6,370.5],"nice":false,"zero":false},
"axis":{"orient":"top","title":null,"grid":false,"labels":false,"ticks":false,"domainColor":"#444444","domainWidth":1.5}},
"y":{"field":"v","type":"quantitative","scale":{"domain":[-1.24,27.57],"nice":false,"zero":false},
"axis":{"orient":"right","title":null,"grid":false,"values":[0,5,10,15,20,25],"labelExpr":"datum.value == 0 ? '0' : datum.value + 'M'","labelAlign":"right","labelBaseline":"middle","labelOverlap":false,"labelFlush":false,"labelBound":false,"tickSize":3,"labelPadding":44,"labelFontSize":10,"labelFontWeight":"bold","labelColor":"#000000","labelFont":"Liberation Sans","tickColor":"#888888","domainColor":"#999999","domainWidth":1.5}},
"y2":{"datum":0}}},
{"data":{"name":"vm"},"mark":{"type":"line","strokeWidth":1.5,"color":"#e01010","interpolate":"monotone"},
"encoding":{
"x":{"field":"i","type":"quantitative","scale":{"domain":[-4.6,370.5],"nice":false,"zero":false},
"axis":{"orient":"top","title":null,"grid":false,"labels":false,"ticks":false,"domainColor":"#444444","domainWidth":1.5}},
"y":{"field":"m","type":"quantitative","scale":{"domain":[-1.24,27.57],"nice":false,"zero":false},
"axis":{"orient":"right","title":null,"grid":false,"values":[0,5,10,15,20,25],"labelExpr":"datum.value == 0 ? '0' : datum.value + 'M'","labelAlign":"right","labelBaseline":"middle","labelOverlap":false,"labelFlush":false,"labelBound":false,"tickSize":3,"labelPadding":44,"labelFontSize":10,"labelFontWeight":"bold","labelColor":"#000000","labelFont":"Liberation Sans","tickColor":"#888888","domainColor":"#999999","domainWidth":1.5}}}}
]
}
]
}
